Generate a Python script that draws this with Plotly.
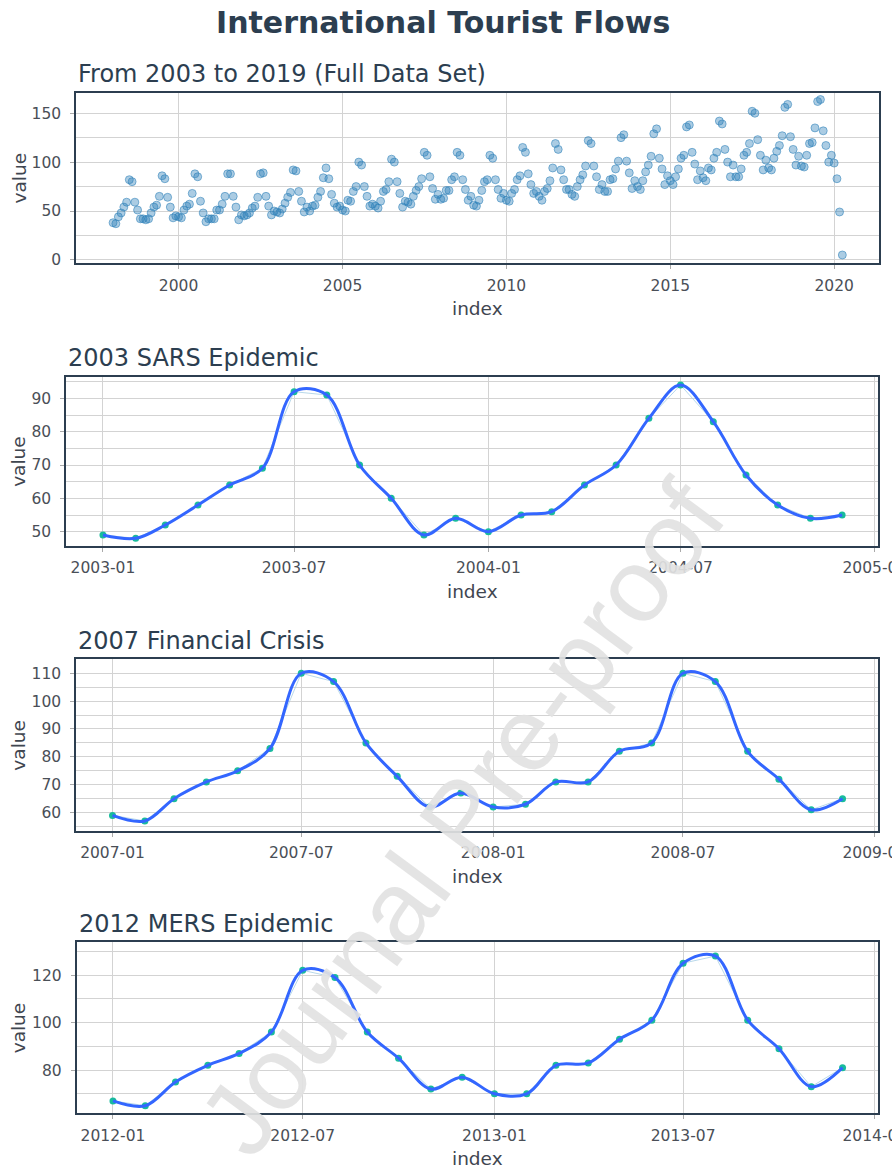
import pandas as pd
import plotly.graph_objects as go

W, H = 892, 1169

# ---------------- data ----------------
full_start = "1998-01-01"
v1998 = [38, 37, 44, 48, 54, 59, 82, 80, 59, 51, 42, 42]
v1999 = [41, 42, 48, 54, 56, 65, 86, 83, 64, 54, 43, 45]
v2000 = [44, 43, 51, 55, 57, 68, 88, 85, 60, 48, 39, 42]
v2001 = [42, 42, 51, 51, 57, 65, 88, 88, 65, 54, 41, 46]
v2002 = [45, 46, 48, 53, 55, 64, 88, 89, 65, 55, 46, 50]
v2003 = [49, 48, 52, 58, 64, 69, 92, 91, 70, 60, 49, 54]
v2004 = [50, 55, 56, 64, 70, 84, 94, 83, 67, 58, 54, 55]
v2005 = [51, 50, 61, 60, 70, 75, 100, 97, 75, 65, 55, 57]
v2006 = [55, 53, 60, 70, 72, 80, 103, 100, 80, 68, 54, 60]
v2007 = [59, 57, 65, 71, 75, 83, 110, 107, 85, 73, 62, 67]
v2008 = [62, 63, 71, 71, 82, 85, 110, 107, 82, 72, 61, 65]
v2009 = [56, 55, 61, 71, 80, 82, 107, 104, 82, 72, 63, 68]
v2010 = [61, 60, 68, 72, 82, 86, 115, 110, 88, 77, 68, 70]
v2011 = [65, 61, 70, 73, 81, 94, 119, 113, 92, 82, 72, 72]
v2012 = [67, 65, 75, 82, 87, 96, 122, 119, 96, 85, 72, 77]
v2013 = [70, 70, 82, 83, 93, 101, 125, 128, 101, 89, 73, 81]
v2014 = [75, 72, 81, 90, 97, 106, 129, 134, 104, 93, 77, 86]
v2015 = [81, 77, 85, 93, 104, 107, 136, 138, 110, 98, 82, 91]
v2016 = [84, 81, 94, 92, 104, 110, 142, 139, 113, 100, 85, 97]
v2017 = [85, 85, 93, 107, 110, 119, 152, 150, 123, 107, 92, 102]
v2018 = [94, 92, 104, 111, 117, 127, 156, 159, 126, 113, 97, 106]
v2019 = [96, 95, 107, 119, 120, 135, 162, 164, 132, 117, 100, 107]
v2020 = [99, 83, 49, 5]

sars_start = "2003-01-01"
sars_values = [49, 48, 52, 58, 64, 69, 92, 91, 70, 60, 49, 54,
               50, 55, 56, 64, 70, 84, 94, 83, 67, 58, 54, 55]
fc_start = "2007-01-01"
fc_values = [59, 57, 65, 71, 75, 83, 110, 107, 85, 73, 62, 67,
             62, 63, 71, 71, 82, 85, 110, 107, 82, 72, 61, 65]
mers_start = "2012-01-01"
mers_values = [67, 65, 75, 82, 87, 96, 122, 119, 96, 85, 72, 77,
               70, 70, 82, 83, 93, 101, 125, 128, 101, 89, 73, 81]

main_title = "International Tourist Flows"
panel_titles = ["From 2003 to 2019 (Full Data Set)", "2003 SARS Epidemic",
                "2007 Financial Crisis", "2012 MERS Epidemic"]
watermark = "Journal Pre-proof"

full_values = (v1998 + v1999 + v2000 + v2001 + v2002 + v2003 + v2004 + v2005 +
               v2006 + v2007 + v2008 + v2009 + v2010 + v2011 + v2012 + v2013 +
               v2014 + v2015 + v2016 + v2017 + v2018 + v2019 + v2020)
full_dates = pd.date_range(full_start, periods=len(full_values), freq="MS")

# ---------------- style ----------------
FONT = "DejaVu Sans"
DARK = "#2C3E50"
TICKC = "#4A4F57"
GRID = "#D3D3D3"

fig = go.Figure()

fig.add_trace(go.Scatter(
    x=full_dates, y=full_values, mode="markers",
    marker=dict(size=8, color="rgba(44,127,184,0.40)",
                line=dict(color="rgba(44,127,184,0.55)", width=1)),
    xaxis="x", yaxis="y", showlegend=False, hoverinfo="skip"))

panels = [(sars_start, sars_values), (fc_start, fc_values), (mers_start, mers_values)]
for k, (start, vals) in enumerate(panels, start=2):
    d = pd.date_range(start, periods=len(vals), freq="MS")
    ax = dict(xaxis=f"x{k}", yaxis=f"y{k}", showlegend=False, hoverinfo="skip")
    fig.add_trace(go.Scatter(x=d, y=vals, mode="lines",
                             line=dict(color="rgba(166,206,227,0.8)", width=1), **ax))
    fig.add_trace(go.Scatter(x=d, y=vals, mode="markers",
                             marker=dict(size=7, color="#18BC9C"), **ax))
    fig.add_trace(go.Scatter(x=d, y=vals, mode="lines",
                             line=dict(color="#3366FF", width=3, shape="spline", smoothing=1.0),
                             **ax))

def xd(a, b):
    return [a / W, b / W]

def yd(top, bot):
    return [1 - bot / H, 1 - top / H]

boxes = [  # x0, x1, ytop, ybot
    (76, 878.5, 92.7, 263.3),
    (66, 878, 376.7, 546),
    (76, 878, 659.3, 831),
    (76.5, 878, 942.3, 1113.3),
]
xranges = [["1996-11-14", "2021-05-09"], ["2002-11-27", "2005-01-04"],
           ["2006-11-27", "2009-01-04"], ["2011-11-27", "2014-01-04"]]
yranges = [[-3.5, 171], [45.7, 96.5], [53.4, 115.0], [61.8, 133.8]]
ydticks = [50, 10, 10, 20]
xdticks = ["M60", "M6", "M6", "M6"]
xtick0 = ["2000-01-01", "2003-01-01", "2007-01-01", "2012-01-01"]
xfmt = ["%Y", "%Y-%m", "%Y-%m", "%Y-%m"]

layout = dict(
    width=W, height=H, margin=dict(l=0, r=0, t=0, b=0, autoexpand=False), autosize=False,
    paper_bgcolor="white", plot_bgcolor="white", showlegend=False,
    font=dict(family=FONT, color=TICKC),
)
annotations = []
for i in range(4):
    sfx = "" if i == 0 else str(i + 1)
    x0, x1, yt, yb = boxes[i]
    common = dict(showline=True, mirror=True, linecolor=DARK, linewidth=1.5,
                  ticks="outside", ticklen=4, tickcolor="#AAAAAA", tickwidth=1,
                  tickfont=dict(family=FONT, size=15.5, color=TICKC),
                  showgrid=True, gridcolor=GRID, gridwidth=1.3, zeroline=False,
                  ticklabeloverflow="allow", automargin=False)
    layout["xaxis" + sfx] = dict(
        domain=xd(x0, x1), anchor="y" + sfx, type="date", range=xranges[i],
        dtick=xdticks[i], tick0=xtick0[i], tickformat=xfmt[i], ticklabelstandoff=3,
        **common)
    layout["yaxis" + sfx] = dict(
        domain=yd(yt, yb), anchor="x" + sfx, range=yranges[i], dtick=ydticks[i],
        minor=dict(dtick=ydticks[i] / 2, showgrid=True, gridcolor=GRID, gridwidth=1.3),
        ticklabelstandoff=6, **common)
    annotations.append(dict(text=panel_titles[i], xref="paper", yref="paper",
                            x=x0 / W, y=1 - (yt - 18.5) / H, xanchor="left", yanchor="middle",
                            showarrow=False, font=dict(family=FONT, size=24, color=DARK)))
    annotations.append(dict(text="value", xref="paper", yref="paper", textangle=-90,
                            x=18.5 / W, y=1 - ((yt + yb) / 2) / H, xanchor="center",
                            yanchor="middle", showarrow=False,
                            font=dict(family=FONT, size=18.5, color="#3F4650")))
    annotations.append(dict(text="index", xref="paper", yref="paper",
                            x=((x0 + x1) / 2) / W, y=1 - (yb + 45.5) / H, xanchor="center",
                            yanchor="middle", showarrow=False,
                            font=dict(family=FONT, size=18.5, color="#3F4650")))

annotations.append(dict(text="<b>" + main_title + "</b>", xref="paper", yref="paper",
                        x=443 / W, y=1 - 22 / H, xanchor="center", yanchor="middle",
                        showarrow=False, font=dict(family=FONT, size=30, color=DARK)))
annotations.append(dict(text=watermark, xref="paper", yref="paper", textangle=-53.5,
                        x=462 / W, y=1 - 818 / H, xanchor="center", yanchor="middle",
                        showarrow=False,
                        font=dict(family="Liberation Sans", size=104, color="rgba(226,226,226,0.92)")))
layout["annotations"] = annotations

fig.update_layout(**layout)

post = ("document.body.style.margin='0px';"
        "document.body.style.overflow='hidden';"
        "document.documentElement.style.overflow='hidden';"
        "var g=document.getElementById('{plot_id}');"
        "g.style.overflow='hidden';")
fig.write_html("out.html",
               config={"responsive": False, "displayModeBar": False},
               post_script=post)
